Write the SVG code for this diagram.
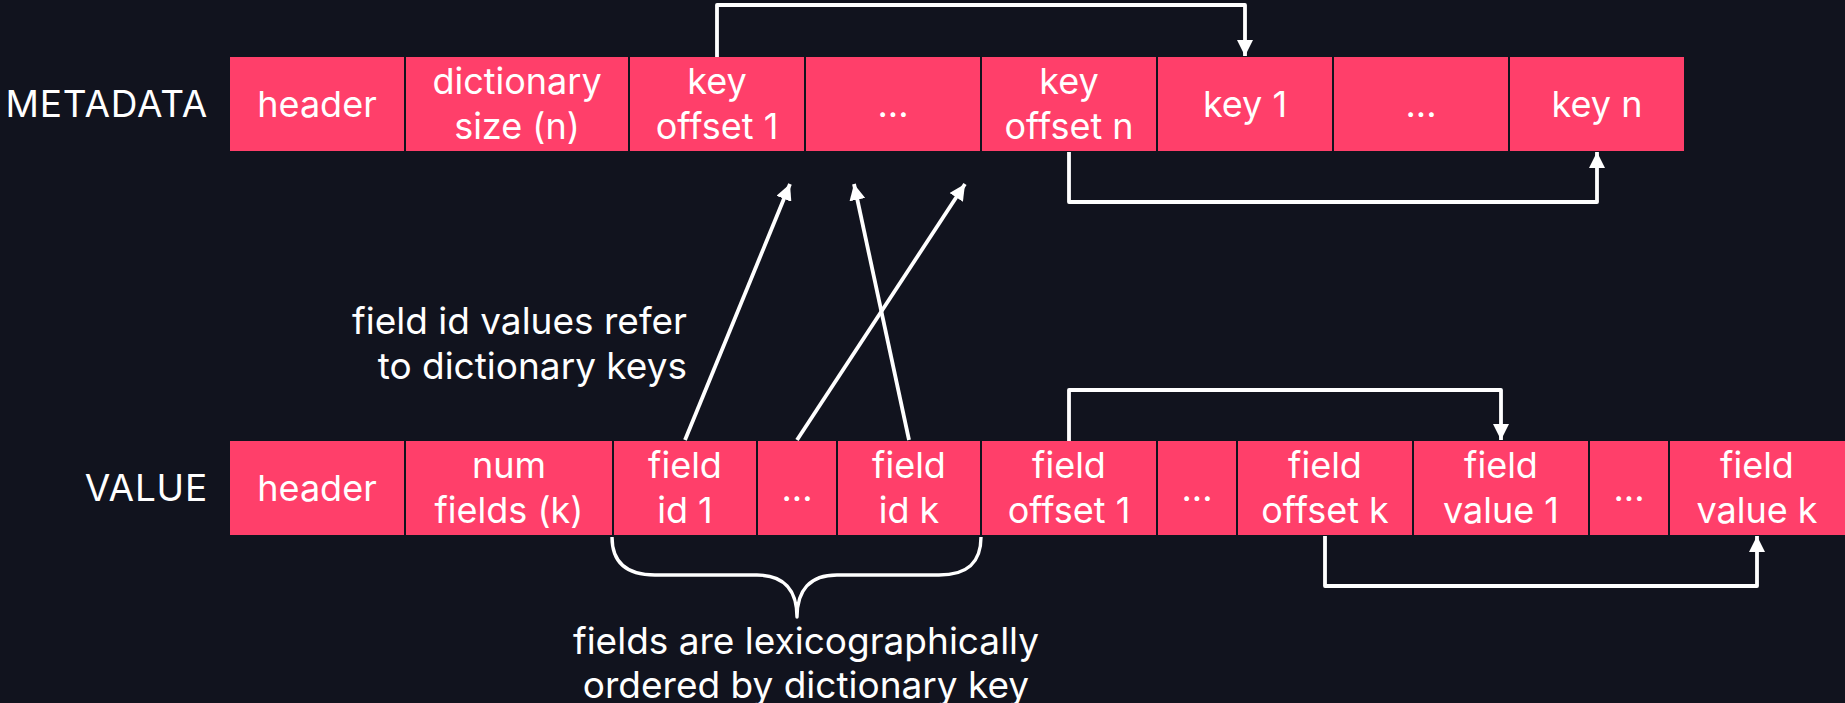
<svg xmlns="http://www.w3.org/2000/svg" width="1845" height="703" viewBox="0 0 1845 703">
<defs>
<style>
.bg{fill:#11131e}
.box{fill:#ff3f6a}
.t{font-family:Inter,"Liberation Sans",sans-serif;font-size:36px;fill:#ffffff;text-anchor:middle}
.lbl{font-family:Inter,"Liberation Sans",sans-serif;font-size:37px;letter-spacing:0.8px;fill:#ffffff;text-anchor:end}
.note{font-family:Inter,"Liberation Sans",sans-serif;font-size:37px;fill:#ffffff}
.c{fill:none;stroke:#ffffff;stroke-width:3.8;stroke-linejoin:round}
</style>
<marker id="ah" viewBox="0 0 16 16" refX="16" refY="8" markerWidth="16" markerHeight="16" orient="auto" markerUnits="userSpaceOnUse"><path d="M0,0 L16,8 L0,16 z" fill="#ffffff"/></marker>
</defs>
<rect class="bg" x="0" y="0" width="1845" height="703"/>
<text class="lbl" x="208" y="117">METADATA</text>
<text class="lbl" x="208" y="501">VALUE</text>
<g id="m-header"><rect class="box" x="230" y="57" width="174" height="94"/><text class="t" x="317" y="117">header</text></g>
<g id="m-dictsize"><rect class="box" x="406" y="57" width="222" height="94"/><text class="t" x="517" y="94">dictionary</text><text class="t" x="517" y="139">size (n)</text></g>
<g id="m-keyoff1"><rect class="box" x="630" y="57" width="174" height="94"/><text class="t" x="717" y="94">key</text><text class="t" x="717" y="139">offset 1</text></g>
<g id="m-dots1"><rect class="box" x="806" y="57" width="174" height="94"/><text class="t" x="893" y="117">...</text></g>
<g id="m-keyoffn"><rect class="box" x="982" y="57" width="174" height="94"/><text class="t" x="1069" y="94">key</text><text class="t" x="1069" y="139">offset n</text></g>
<g id="m-key1"><rect class="box" x="1158" y="57" width="174" height="94"/><text class="t" x="1245" y="117">key 1</text></g>
<g id="m-dots2"><rect class="box" x="1334" y="57" width="174" height="94"/><text class="t" x="1421" y="117">...</text></g>
<g id="m-keyn"><rect class="box" x="1510" y="57" width="174" height="94"/><text class="t" x="1597" y="117">key n</text></g>

<g id="v-header"><rect class="box" x="230" y="441" width="174" height="94"/><text class="t" x="317" y="501">header</text></g>
<g id="v-numfields"><rect class="box" x="406" y="441" width="206" height="94"/><text class="t" x="509" y="478">num</text><text class="t" x="509" y="523">fields (k)</text></g>
<g id="v-fid1"><rect class="box" x="614" y="441" width="142" height="94"/><text class="t" x="685" y="478">field</text><text class="t" x="685" y="523">id 1</text></g>
<g id="v-dots1"><rect class="box" x="758" y="441" width="78" height="94"/><text class="t" x="797" y="501">...</text></g>
<g id="v-fidk"><rect class="box" x="838" y="441" width="142" height="94"/><text class="t" x="909" y="478">field</text><text class="t" x="909" y="523">id k</text></g>
<g id="v-foff1"><rect class="box" x="982" y="441" width="174" height="94"/><text class="t" x="1069" y="478">field</text><text class="t" x="1069" y="523">offset 1</text></g>
<g id="v-dots2"><rect class="box" x="1158" y="441" width="78" height="94"/><text class="t" x="1197" y="501">...</text></g>
<g id="v-foffk"><rect class="box" x="1238" y="441" width="174" height="94"/><text class="t" x="1325" y="478">field</text><text class="t" x="1325" y="523">offset k</text></g>
<g id="v-fval1"><rect class="box" x="1414" y="441" width="174" height="94"/><text class="t" x="1501" y="478">field</text><text class="t" x="1501" y="523">value 1</text></g>
<g id="v-dots3"><rect class="box" x="1590" y="441" width="78" height="94"/><text class="t" x="1629" y="501">...</text></g>
<g id="v-fvalk"><rect class="box" x="1670" y="441" width="175" height="94"/><text class="t" x="1757" y="478">field</text><text class="t" x="1757" y="523">value k</text></g>

<g id="connectors">
<path class="c" d="M717 57 V5 H1245 V56" marker-end="url(#ah)"/>
<path class="c" d="M1069 152 V202 H1597 V152" marker-end="url(#ah)"/>
<path class="c" d="M1069 441 V390 H1501 V440" marker-end="url(#ah)"/>
<path class="c" d="M1325 536 V586 H1757 V536" marker-end="url(#ah)"/>
<path class="c" d="M685 440 L790 184" marker-end="url(#ah)"/>
<path class="c" d="M909 440 L854 184" marker-end="url(#ah)"/>
<path class="c" d="M797 440 L965 184" marker-end="url(#ah)"/>
<path class="c" style="stroke-width:3.4" d="M612 537 C612 562 626 575 655 575 L757 575 C784 575 797 590 797 617 C797 590 810 575 837 575 L939 575 C968 575 981 562 981 537"/>
</g>
<text class="note" x="687" y="334" text-anchor="end">field id values refer</text>
<text class="note" x="687" y="379" text-anchor="end">to dictionary keys</text>
<text class="note" x="806" y="654" text-anchor="middle">fields are lexicographically</text>
<text class="note" x="806" y="698" text-anchor="middle">ordered by dictionary key</text>
</svg>
